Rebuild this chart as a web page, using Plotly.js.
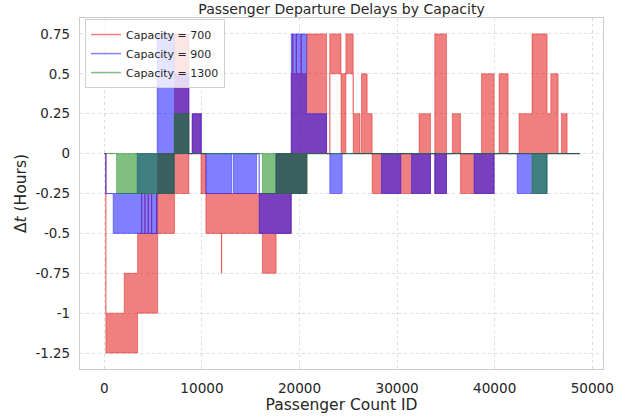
<!DOCTYPE html>
<html><head><meta charset="utf-8">
<script src="https://cdn.plot.ly/plotly-3.0.1.min.js"></script>
<style>html,body{margin:0;padding:0;background:#fff}#chart{width:635px;height:417px}</style>
</head><body><div id="chart"></div>
<script>
// Series names
const seriesNames = ["Capacity = 700", "Capacity = 900", "Capacity = 1300"];

// Capacity = 700 : segment start (passenger id), lower / upper delay (hours)
const x700  = [0, 150, 2030, 3400, 3800, 3830, 4140, 4170, 4480, 4510, 4830, 4860, 5340, 5370, 5460, 7190, 8660, 9000, 9900, 10400, 11990, 12030, 16190, 17600, 19150, 19300, 19330, 19650, 19680, 20150, 20180, 20750, 22770, 23100, 24250, 24750, 25500, 26200, 26350, 26930, 27440, 32250, 33420, 33860, 35060, 35660, 36500, 38650, 39940, 40450, 41370, 42500, 43830, 45370, 45750, 46500, 46840, 47420, 48720];
const lo700 = [0, -1.25, -1.25, -1, -1, -1, -1, -1, -1, -1, -1, -1, -1, -1, -0.5, -0.25, 0, 0, -0.25, -0.5, -0.75, -0.5, -0.75, -0.5, -0.25, -0.25, -0.25, -0.25, -0.25, -0.25, -0.25, 0, 0, 0.5, 0, 0.5, 0, 0, 0, 0, -0.25, -0.25, 0, -0.25, 0, 0, -0.25, -0.25, 0, 0, 0, 0, 0, 0, 0, 0, 0, 0, 0];
const hi700 = [0, -1, -0.75, -0.5, -0.25, -0.5, -0.25, -0.5, -0.25, -0.5, -0.25, -0.5, -0.25, -0.5, 0, 0.75, 0, 0.25, 0, -0.25, -0.25, -0.25, -0.25, 0, 0.5, 0.75, 0.5, 0.75, 0.5, 0.75, 0.5, 0.75, 0, 0.75, 0.5, 0.75, 0.25, 0, 0.5, 0.25, 0, 0.25, 0, 0.75, 0, 0.25, 0, 0.5, 0, 0.5, 0, 0.25, 0.75, 0.25, 0.5, 0, 0.25, 0, 0];

// Capacity = 900
const x900  = [0, 150, 900, 3360, 5410, 7150, 8660, 9000, 9960, 10400, 13030, 13200, 15590, 15860, 17570, 19150, 20720, 22770, 23100, 24370, 28400, 30380, 31480, 33420, 33860, 35060, 37890, 39940, 42300, 45370, 48720];
const lo900 = [0, -0.25, -0.5, -0.5, -0.25, 0, 0, 0, 0, -0.25, 0, -0.25, 0, -0.5, -0.5, -0.25, 0, 0, -0.25, 0, -0.25, 0, -0.25, 0, -0.25, 0, -0.25, 0, -0.25, 0, 0];
const hi900 = [0, -0.25, -0.25, 0, 0.75, 0.5, 0, 0.25, 0, 0, 0, 0, 0, -0.25, 0, 0.75, 0.25, 0, 0, 0, 0, 0, 0, 0, 0, 0, 0, 0, 0, 0, 0];

// Capacity = 1300
const x1300  = [0, 1250, 7150, 8660, 16190, 20780, 43830, 45370, 48720];
const lo1300 = [0, -0.25, 0, 0, -0.25, 0, -0.25, 0, 0];
const hi1300 = [0, 0, 0.25, 0, 0, 0, 0, 0, 0];

// Axis ticks
const xTickVals = [0, 10000, 20000, 30000, 40000, 50000];
const yTickVals = [0.75, 0.5, 0.25, 0, -0.25, -0.5, -0.75, -1, -1.25];
const yTickText = ["0.75", "0.5", "0.25", "0", "-0.25", "-0.5", "-0.75", "-1", "-1.25"];

const colors = ["rgba(225,0,0,0.5)", "rgba(0,0,255,0.5)", "rgba(0,128,0,0.5)"];

function stepBand(xs, lo, hi) {
  const px = [], py = [];
  for (let i = 0; i < xs.length - 1; i++) { px.push(xs[i], xs[i + 1]); py.push(hi[i], hi[i]); }
  for (let i = xs.length - 2; i >= 0; i--) { px.push(xs[i + 1], xs[i]); py.push(lo[i], lo[i]); }
  px.push(xs[0]); py.push(hi[0]);
  return { px, py };
}

const bands = [[x700, lo700, hi700], [x900, lo900, hi900], [x1300, lo1300, hi1300]];
const traces = [];
bands.forEach((b, k) => {
  const p = stepBand(b[0], b[1], b[2]);
  traces.push({
    type: 'scatter', mode: 'lines', x: p.px, y: p.py,
    fill: 'toself', fillcolor: colors[k],
    line: { color: colors[k], width: 0.8, simplify: false },
    showlegend: false, hoverinfo: 'skip'
  });
});
seriesNames.forEach((n, k) => {
  traces.push({
    type: 'scatter', mode: 'lines', x: [null], y: [null], name: n,
    line: { color: colors[k], width: 1.5 }
  });
});

const font = { family: 'DejaVu Sans, sans-serif', color: '#262626' };
const layout = {
  width: 635, height: 417,
  margin: { l: 80, r: 32, t: 18, b: 48 },
  paper_bgcolor: '#fff', plot_bgcolor: '#fff',
  font: font,
  title: { text: 'Passenger Departure Delays by Capacity', font: { family: font.family, size: 14, color: '#262626' },
           x: 0.5, xref: 'paper', y: 0.978, yref: 'container', yanchor: 'middle' },
  xaxis: {
    range: [-2500, 51100], tickvals: xTickVals, ticktext: xTickVals.map(String),
    showgrid: true, gridcolor: '#dedede', griddash: 'dot', gridwidth: 1,
    zeroline: false, showline: true, mirror: true, linecolor: '#cccccc', linewidth: 1.25,
    ticks: '', ticklabelstandoff: 6,
    tickfont: { family: font.family, size: 13.6, color: '#262626' },
    title: { text: 'Passenger Count ID', font: { family: font.family, size: 15.5, color: '#262626' }, standoff: 2 }
  },
  yaxis: {
    range: [-1.35, 0.85], tickvals: yTickVals, ticktext: yTickText,
    showgrid: true, gridcolor: '#dedede', griddash: 'dot', gridwidth: 1,
    zeroline: false, showline: true, mirror: true, linecolor: '#cccccc', linewidth: 1.25,
    ticks: '', ticklabelstandoff: 6,
    tickfont: { family: font.family, size: 13.4, color: '#262626' },
    title: { text: 'Δ<i>t</i> (Hours)', font: { family: font.family, size: 15.5, color: '#262626' }, standoff: 5 }
  },
  legend: {
    x: 0.0096, y: 0.997, xanchor: 'left', yanchor: 'top',
    bgcolor: 'rgba(255,255,255,0.8)', bordercolor: '#d0d0d0', borderwidth: 1,
    font: { family: font.family, size: 11, color: '#262626' },
    itemwidth: 30, tracegroupgap: 0
  }
};

Plotly.newPlot('chart', traces, layout, { displayModeBar: false, staticPlot: true });
</script>
</body></html>
